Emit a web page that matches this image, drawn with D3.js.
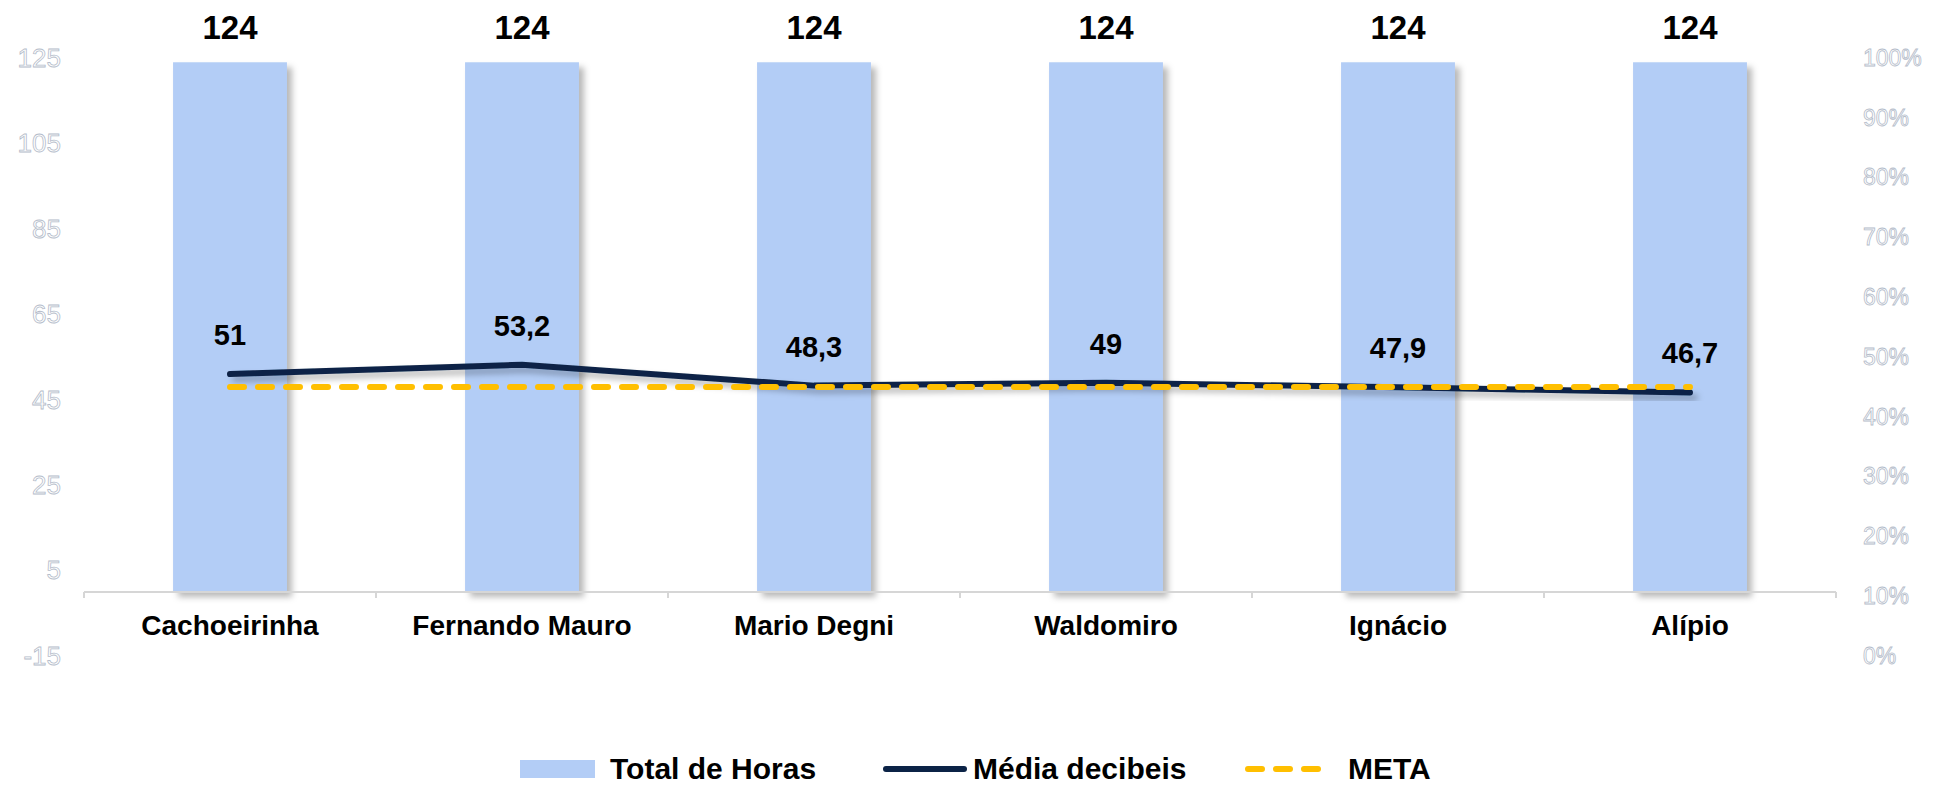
<!DOCTYPE html>
<html>
<head>
<meta charset="utf-8">
<script src="https://cdn.jsdelivr.net/npm/d3@7"></script>
<style>
  html, body { margin: 0; padding: 0; background: #fff; }
  svg { display: block; font-family: "Liberation Sans", Arial, sans-serif; }
</style>
</head>
<body>
<svg id="chart" width="1952" height="787"></svg>
<script>
const categories = ["Cachoeirinha", "Fernando Mauro", "Mario Degni", "Waldomiro", "Ignácio", "Alípio"];
const totalHoras = [124, 124, 124, 124, 124, 124];
const mediaDecibeis = [51, 53.2, 48.3, 49, 47.9, 46.7];
const meta = [48, 48, 48, 48, 48, 48];
const leftTicks = [-15, 5, 25, 45, 65, 85, 105, 125];
const rightTicks = [0, 0.1, 0.2, 0.3, 0.4, 0.5, 0.6, 0.7, 0.8, 0.9, 1.0];
const legendLabels = ["Total de Horas", "Média decibeis", "META"];

const svg = d3.select("#chart");
const defs = svg.append("defs");
const f = defs.append("filter").attr("id", "shadow")
  .attr("x", "-20%").attr("y", "-20%").attr("width", "150%").attr("height", "150%");
f.append("feDropShadow").attr("dx", 5).attr("dy", 5).attr("stdDeviation", 3)
  .attr("flood-color", "#000").attr("flood-opacity", 0.28);

const x = d3.scaleBand().domain(categories).range([84, 1836])
  .paddingInner(0.61).paddingOuter(0.305);
const y = d3.scaleLinear().domain([-15, 125]).range([656, 58]);
const yR = d3.scaleLinear().domain([0, 1]).range([656, 58]);
const cx = c => x(c) + x.bandwidth() / 2;
const fmt = v => String(v).replace(".", ",");

// Left axis (labels only)
const gl = svg.append("g").attr("transform", "translate(61,0)")
  .call(d3.axisLeft(y).tickValues(leftTicks).tickSize(0).tickPadding(0).tickFormat(d => String(d)));
gl.select(".domain").remove();
gl.selectAll("text").attr("font-size", 26).attr("fill", "#fff")
  .attr("stroke", "#b4bcca").attr("stroke-width", 0.8)
  .attr("font-family", "Liberation Sans, Arial, sans-serif");

// Right axis (labels only)
const gr = svg.append("g").attr("transform", "translate(1863,0)")
  .call(d3.axisRight(yR).tickValues(rightTicks).tickSize(0).tickPadding(0).tickFormat(d3.format(".0%")));
gr.select(".domain").remove();
gr.selectAll("text").attr("font-size", 23).attr("fill", "#fff")
  .attr("stroke", "#b4bcca").attr("stroke-width", 0.8)
  .attr("font-family", "Liberation Sans, Arial, sans-serif");

// Bars
svg.append("g").selectAll("rect").data(categories).join("rect")
  .attr("x", d => x(d)).attr("width", x.bandwidth())
  .attr("y", (d, i) => y(totalHoras[i]))
  .attr("height", (d, i) => y(0) - y(totalHoras[i]))
  .attr("fill", "#b3cdf6")
  .attr("filter", "url(#shadow)");

// Category axis
const gx = svg.append("g").attr("transform", `translate(0,${y(0)})`)
  .call(d3.axisBottom(x).tickSize(0).tickPadding(0));
gx.select(".domain").attr("stroke", "#d6d6d6").attr("stroke-width", 2)
  .attr("d", `M84,0H1836`);
gx.selectAll(".tick text").attr("font-size", 28).attr("font-weight", "bold")
  .attr("fill", "#000").attr("y", 43).attr("dy", 0)
  .attr("font-family", "Liberation Sans, Arial, sans-serif");
const bounds = d3.range(categories.length + 1).map(i => 84 + i * x.step());
gx.selectAll(".bound").data(bounds).join("line").attr("class", "bound")
  .attr("x1", d => d).attr("x2", d => d).attr("y1", 0).attr("y2", 6)
  .attr("stroke", "#d6d6d6").attr("stroke-width", 2);

// Bar value labels
svg.append("g").selectAll("text").data(categories).join("text")
  .attr("x", d => cx(d)).attr("y", 39)
  .attr("text-anchor", "middle").attr("font-size", 33).attr("font-weight", "bold")
  .text((d, i) => totalHoras[i]);

// Média line
const line = d3.line().x(d => cx(d.c)).y(d => y(d.v));
svg.append("path")
  .datum(categories.map((c, i) => ({c, v: mediaDecibeis[i]})))
  .attr("d", line).attr("fill", "none").attr("stroke", "#0b2346")
  .attr("stroke-width", 6).attr("stroke-linecap", "round").attr("stroke-linejoin", "round")
  .attr("filter", "url(#shadow)");

// META line
svg.append("path")
  .datum(categories.map((c, i) => ({c, v: meta[i]})))
  .attr("d", line).attr("fill", "none").attr("stroke", "#ffbf00")
  .attr("stroke-width", 6).attr("stroke-linecap", "round")
  .attr("stroke-dasharray", "14,14");

// Média labels
svg.append("g").selectAll("text").data(categories).join("text")
  .attr("x", d => cx(d)).attr("y", (d, i) => y(mediaDecibeis[i]) - 29)
  .attr("text-anchor", "middle").attr("font-size", 29).attr("font-weight", "bold")
  .text((d, i) => fmt(mediaDecibeis[i]));

// Legend
const lg = svg.append("g");
const ly = 769;
lg.append("rect").attr("x", 520).attr("y", ly - 9).attr("width", 75).attr("height", 18).attr("fill", "#b3cdf6");
lg.append("text").attr("x", 610).attr("y", ly + 10).attr("font-size", 30).attr("font-weight", "bold").text(legendLabels[0]);
lg.append("line").attr("x1", 886).attr("x2", 964).attr("y1", ly).attr("y2", ly)
  .attr("stroke", "#0b2346").attr("stroke-width", 6).attr("stroke-linecap", "round");
lg.append("text").attr("x", 973).attr("y", ly + 10).attr("font-size", 30).attr("font-weight", "bold").text(legendLabels[1]);
lg.append("line").attr("x1", 1248).attr("x2", 1326).attr("y1", ly).attr("y2", ly)
  .attr("stroke", "#ffbf00").attr("stroke-width", 6).attr("stroke-linecap", "round")
  .attr("stroke-dasharray", "14,14");
lg.append("text").attr("x", 1348).attr("y", ly + 10).attr("font-size", 30).attr("font-weight", "bold").text(legendLabels[2]);
</script>
</body>
</html>
